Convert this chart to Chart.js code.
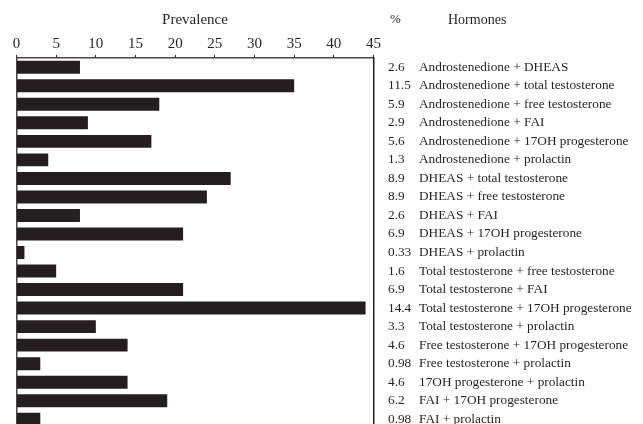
<!DOCTYPE html>
<html>
<head>
<meta charset="utf-8">
<script src="https://cdn.jsdelivr.net/npm/chart.js@4/dist/chart.umd.min.js"></script>
<style>
  html, body { margin: 0; padding: 0; background: #ffffff; overflow: hidden; }
  #wrap { width: 643px; height: 424px; overflow: hidden; }
  canvas { display: block; }
</style>
</head>
<body>
<div id="wrap"><canvas id="c" width="643" height="432"></canvas></div>
<script>
// Hormone pairs
const hormones = [
  'Androstenedione + DHEAS',
  'Androstenedione + total testosterone',
  'Androstenedione + free testosterone',
  'Androstenedione + FAI',
  'Androstenedione + 17OH progesterone',
  'Androstenedione + prolactin',
  'DHEAS + total testosterone',
  'DHEAS + free testosterone',
  'DHEAS + FAI',
  'DHEAS + 17OH progesterone',
  'DHEAS + prolactin',
  'Total testosterone + free testosterone',
  'Total testosterone + FAI',
  'Total testosterone + 17OH progesterone',
  'Total testosterone + prolactin',
  'Free testosterone + 17OH progesterone',
  'Free testosterone + prolactin',
  '17OH progesterone + prolactin',
  'FAI + 17OH progesterone',
  'FAI + prolactin'
];

// Prevalence (number of cases) per pair
const prevalence = [8, 35, 18, 9, 17, 4, 27, 24, 8, 21, 1, 5, 21, 44, 10, 14, 3, 14, 19, 3];

// Percentage column
const percents = ['2.6', '11.5', '5.9', '2.9', '5.6', '1.3', '8.9', '8.9', '2.6', '6.9',
                  '0.33', '1.6', '6.9', '14.4', '3.3', '4.6', '0.98', '4.6', '6.2', '0.98'];

// Axis ticks
const xTicks = [0, 5, 10, 15, 20, 25, 30, 35, 40, 45];

const INK = '#231f20';
const SERIF = '"Liberation Serif", "Times New Roman", serif';

// Draws the "%" / "Hormones" table beside the bars
const sideTable = {
  id: 'sideTable',
  afterDraw(chart) {
    const ctx = chart.ctx;
    const y = chart.scales.y;
    const right = chart.chartArea.right;
    const pctX = right + 14.5;
    const nameX = right + 45.5;
    ctx.save();
    ctx.fillStyle = INK;
    ctx.textBaseline = 'middle';
    ctx.textAlign = 'left';
    ctx.font = '13px ' + SERIF;
    ctx.fillText('%', pctX + 2, 20);
    ctx.font = '14px ' + SERIF;
    ctx.fillText('Hormones', nameX + 29, 20);
    ctx.font = '13.3px ' + SERIF;
    hormones.forEach((h, i) => {
      const py = y.getPixelForValue(i);
      ctx.fillText(percents[i], pctX, py);
      ctx.fillText(h, nameX, py);
    });
    ctx.restore();
  }
};

new Chart(document.getElementById('c'), {
  type: 'bar',
  data: {
    labels: hormones,
    datasets: [{
      data: prevalence,
      backgroundColor: INK,
      borderWidth: 0,
      categoryPercentage: 1.0,
      barPercentage: 0.70
    }]
  },
  options: {
    indexAxis: 'y',
    responsive: false,
    animation: false,
    devicePixelRatio: 1,
    layout: { padding: { left: 8.5, right: 261.5, top: 11, bottom: 3.5 } },
    plugins: { legend: { display: false }, tooltip: { enabled: false } },
    scales: {
      x: {
        position: 'top',
        min: 0,
        max: 45,
        afterBuildTicks(scale) { scale.ticks = xTicks.map(v => ({ value: v })); },
        ticks: { color: INK, font: { family: SERIF, size: 15 }, padding: 2 },
        grid: { drawOnChartArea: false, drawTicks: true, tickLength: 3, color: INK, lineWidth: 1 },
        border: { display: true, color: '#4a4647', width: 1.5 },
        title: { display: true, text: 'Prevalence', color: INK, font: { family: SERIF, size: 15 }, padding: { top: 0, bottom: 4 } }
      },
      y: {
        position: 'left',
        ticks: { display: false },
        grid: { display: false },
        border: { display: true, color: '#4a4647', width: 1.5 }
      },
      y2: {
        type: 'category',
        labels: hormones,
        position: 'right',
        ticks: { display: false },
        grid: { display: false },
        border: { display: true, color: '#231f20', width: 1.5 }
      }
    }
  },
  plugins: [sideTable]
});
</script>
</body>
</html>
